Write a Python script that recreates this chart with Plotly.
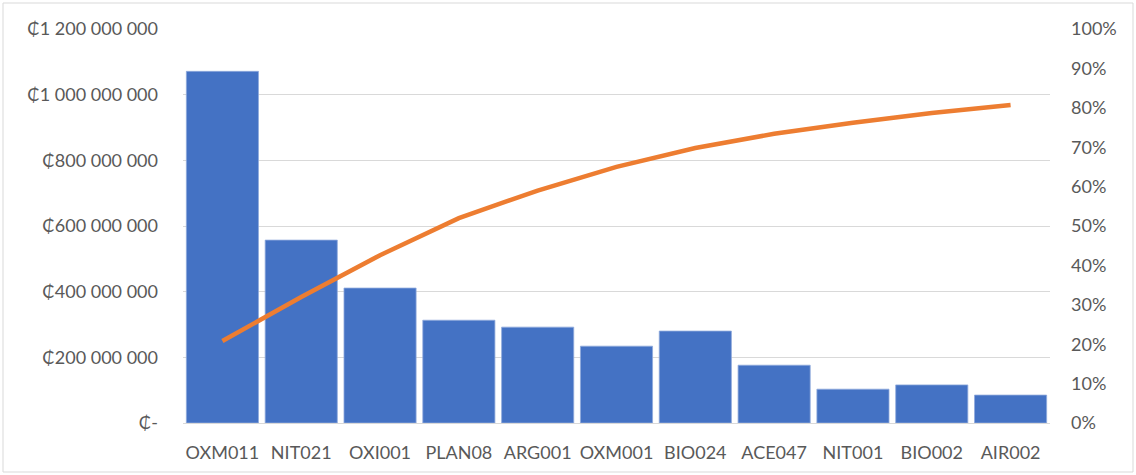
import plotly.graph_objects as go

# Pareto data: cost per product code and cumulative share
codes = ["OXM011", "NIT021", "OXI001", "PLAN08", "ARG001", "OXM001",
         "BIO024", "ACE047", "NIT001", "BIO002", "AIR002"]
costs = [1071e6, 557e6, 411e6, 313e6, 292e6, 234e6, 280e6, 176e6, 103e6, 116e6, 85e6]
cumulative_pct = [0.208, 0.320, 0.426, 0.520, 0.590, 0.650, 0.698, 0.734, 0.762, 0.787, 0.807]

left_ticks = [0, 200e6, 400e6, 600e6, 800e6, 1000e6, 1200e6]
left_labels = ["₵-", "₵200 000 000", "₵400 000 000", "₵600 000 000",
               "₵800 000 000", "₵1 000 000 000", "₵1 200 000 000"]
right_ticks = [i / 10 for i in range(11)]
right_labels = [f"{i * 10}%" for i in range(11)]

W, H = 1136, 475
L, R, T, B = 183, 86, 29, 52
pw, ph = W - L - R, H - T - B

font = dict(family="Lato, Calibri, sans-serif", size=18, color="#595959")

fig = go.Figure()
fig.add_trace(go.Bar(
    x=codes, y=costs, marker=dict(color="#4472C4", line=dict(width=0.8, color="#8FAADC")),
    yaxis="y", name="Costo",
))
fig.add_trace(go.Scatter(
    x=codes, y=cumulative_pct, mode="lines", yaxis="y2",
    line=dict(color="#ED7D31", width=4.5), name="% acumulado",
))

fig.update_layout(
    width=W, height=H,
    margin=dict(l=L, r=R, t=T, b=B),
    paper_bgcolor="white", plot_bgcolor="white",
    showlegend=False, bargap=0.085,
    font=font,
    xaxis=dict(showgrid=False, showline=True, linecolor="#D9D9D9", linewidth=1,
               ticks="", tickfont=font, ticklabelstandoff=13),
    yaxis=dict(range=[0, 1200e6], tickvals=left_ticks, ticktext=left_labels,
               showgrid=True, gridcolor="#D9D9D9", gridwidth=1, zeroline=False,
               tickfont=font, ticklabelstandoff=24),
    yaxis2=dict(range=[0, 1], tickvals=right_ticks, ticktext=right_labels,
                overlaying="y", side="right", showgrid=False, zeroline=False,
                tickfont=font, ticklabelstandoff=20),
    shapes=[dict(type="rect", xref="paper", yref="paper",
                 x0=(3 - L) / pw, x1=(1133 - L) / pw,
                 y0=-(472 - (H - B)) / ph, y1=(H - B - 3) / ph,
                 line=dict(color="#D9D9D9", width=1), layer="below")],
)

fig.write_html("out.html")
